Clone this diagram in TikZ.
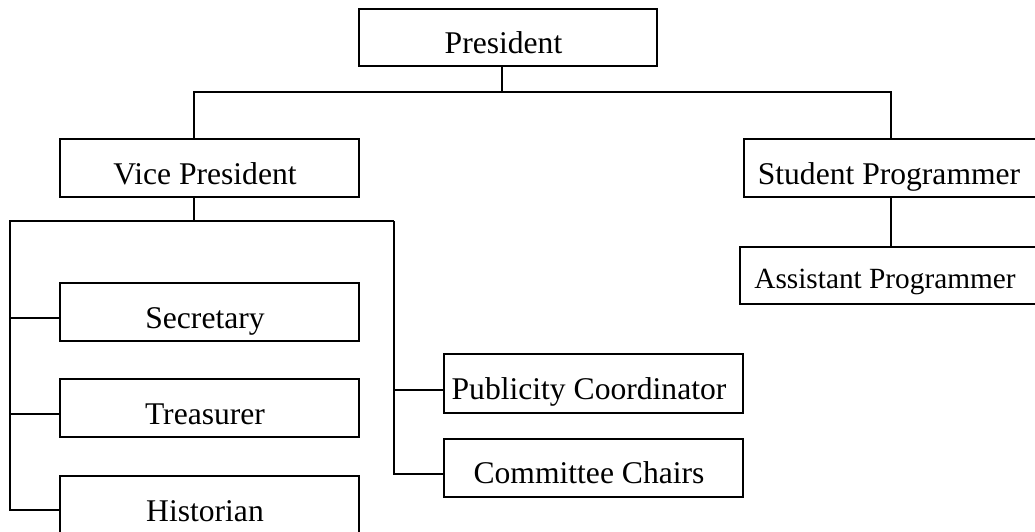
\documentclass[tikz,border=0pt]{standalone}
\usepackage{fontspec}
\setmainfont{Liberation Serif}
\usepackage{tikz}
\newcommand{\BoxWidth}{299pt}

\begin{document}
\begin{tikzpicture}[x=1pt, y=-1pt, line width=2pt,
    post/.style={draw, line width=2pt, inner sep=0pt, minimum width=\BoxWidth,
        minimum height=58pt, text height=32pt, text depth=0pt,
        font=\fontsize{31.6}{38}\selectfont, execute at end node={\hspace{9pt}}}]
    \useasboundingbox (0,0) rectangle (1035,531);

    % draw the boxes
    \node[post, minimum width=298pt, minimum height=57pt] (pres) at (508,37.5) {President};
    \node[post] (vp) at (209.5,168) {Vice President};
    \node[post] (stud) at (893.5,168) {Student Programmer};
    \node[post, minimum height=57pt, text height=25pt,
        font=\fontsize{29.3}{35}\selectfont] (asst) at (889.5,275.5) {Assistant Programmer};

    \foreach \name/\y/\descr in {sec/312/Secretary, tre/408/Treasurer, his/505/Historian}
    \node[post] (\name) at (209.5,\y) {\descr};

    \node[post, minimum height=59pt] (pub) at (593.5,383.5) {Publicity Coordinator};
    \node[post] (com) at (593.5,467.5) {Committee Chairs};

    % junctions
    \coordinate (pj) at (502,92);
    \coordinate (sx) at (891,92);
    \coordinate (vj) at (194,221);
    \coordinate (lb) at (10,221);
    \coordinate (rb) at (394,221);

    % draw top connectors
    \draw (pres.south -| pj) -- (pj);
    \draw (vp.north -| vj) |- (sx) -- (stud.north -| sx);
    \draw (stud.south -| sx) -- (asst.north -| sx);

    % draw lower connectors
    \draw (vp.south -| vj) -- (vj);
    \draw (rb) -- (lb) |- ([yshift=-5pt]his.west);
    \foreach \name in {sec,tre}
    \draw ([yshift=-6pt]\name.west) -| (lb);
    \draw (rb) |- ([yshift=-6pt]com.west);
    \draw ([yshift=-6pt]pub.west) -| (rb);
\end{tikzpicture}
\end{document}
